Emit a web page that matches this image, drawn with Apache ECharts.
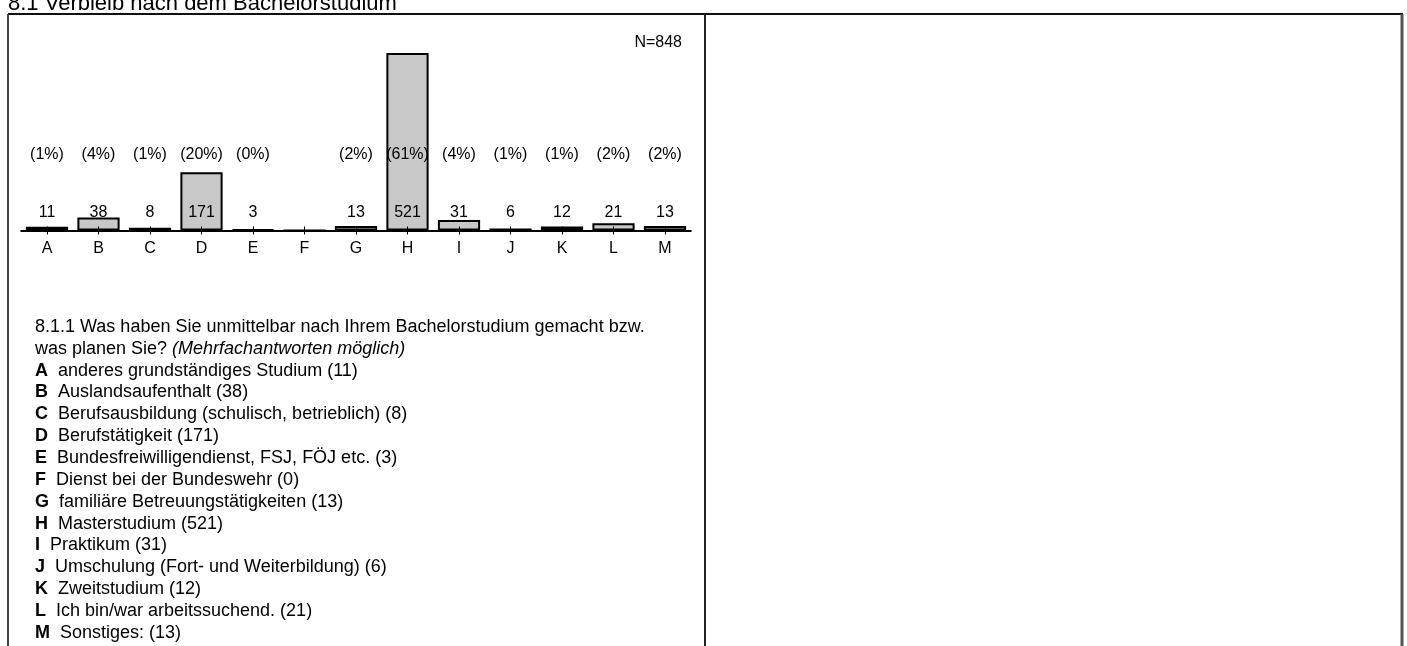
<!DOCTYPE html>
<html>
<head>
<meta charset="utf-8">
<script src="https://cdn.jsdelivr.net/npm/echarts@6/dist/echarts.min.js"></script>
<style>
html,body{margin:0;padding:0;background:#ffffff;}
#chart{width:1407px;height:646px;}
</style>
</head>
<body>
<div id="chart"></div>
<script>
// ---- data ----
const chartTitle = '8.1 Verbleib nach dem Bachelorstudium';
const totalN = 848;
const categories = ['A','B','C','D','E','F','G','H','I','J','K','L','M'];
const counts = [11, 38, 8, 171, 3, 0, 13, 521, 31, 6, 12, 21, 13];
const percentLabels = ['(1%)','(4%)','(1%)','(20%)','(0%)','','(2%)','(61%)','(4%)','(1%)','(1%)','(2%)','(2%)'];
const answerTexts = [
  'anderes grundständiges Studium',
  'Auslandsaufenthalt',
  'Berufsausbildung (schulisch, betrieblich)',
  'Berufstätigkeit',
  'Bundesfreiwilligendienst, FSJ, FÖJ etc.',
  'Dienst bei der Bundeswehr',
  'familiäre Betreuungstätigkeiten',
  'Masterstudium',
  'Praktikum',
  'Umschulung (Fort- und Weiterbildung)',
  'Zweitstudium',
  'Ich bin/war arbeitssuchend.',
  'Sonstiges:'
];
const questionLine1 = '8.1.1 Was haben Sie unmittelbar nach Ihrem Bachelorstudium gemacht bzw.';
const questionLine2 = 'was planen Sie? ';
const questionHint = '(Mehrfachantworten möglich)';

// ---- build ----
const FONT = "'Liberation Sans', Arial, sans-serif";
const listLines = [questionLine1, questionLine2 + '{i|' + questionHint + '}'];
categories.forEach((c, i) => {
  listLines.push('{b|' + c + '}  ' + answerTexts[i] + ' (' + counts[i] + ')');
});

const baseAxis = {
  type: 'category',
  data: categories,
  position: 'bottom',
  gridIndex: 0,
  axisLine: { show: false },
  axisTick: { show: false },
  splitLine: { show: false }
};

const LH = 21.86;
const chart = echarts.init(document.getElementById('chart'), null, { renderer: 'canvas' });
chart.setOption({
  animation: false,
  backgroundColor: '#ffffff',
  textStyle: { fontFamily: FONT },
  title: [{
    text: listLines.join('\n'),
    left: 35,
    top: 316,
    padding: 0,
    textStyle: {
      fontFamily: FONT, fontSize: 18, fontWeight: 'normal', color: '#000', lineHeight: LH,
      rich: {
        b: { fontFamily: FONT, fontSize: 18, fontWeight: 'bold', color: '#000', lineHeight: LH },
        i: { fontFamily: FONT, fontSize: 18, fontStyle: 'italic', color: '#000', lineHeight: LH }
      }
    }
  }],
  graphic: [
    { type: 'text', x: 8, y: 4, style: { text: chartTitle, font: "22px 'Liberation Sans', Arial, sans-serif", fill: '#000', verticalAlign: 'middle', align: 'left' } },
    { type: 'text', x: 682, y: 43, style: { text: 'N=' + totalN, font: "16px 'Liberation Sans', Arial, sans-serif", fill: '#000', verticalAlign: 'middle', align: 'right' } },
    { type: 'line', shape: { x1: 8, y1: 14, x2: 1403, y2: 14 }, style: { stroke: '#111', lineWidth: 2 } },
    { type: 'line', shape: { x1: 8, y1: 14, x2: 8, y2: 646 }, style: { stroke: '#444', lineWidth: 2 } },
    { type: 'line', shape: { x1: 705, y1: 14, x2: 705, y2: 646 }, style: { stroke: '#222', lineWidth: 2 } },
    { type: 'line', shape: { x1: 1402, y1: 14, x2: 1402, y2: 646 }, style: { stroke: '#555', lineWidth: 3 } }
  ],
  grid: { left: 21.25, top: 53, width: 669.5, height: 177.5, containLabel: false },
  xAxis: [
    {
      type: 'category', data: categories, position: 'bottom', gridIndex: 0, z: 3,
      axisLine: { show: true, lineStyle: { color: '#000', width: 2 } },
      axisTick: { show: true, alignWithLabel: true, length: 4, lineStyle: { color: '#000', width: 1 } },
      axisLabel: { show: true, interval: 0, margin: 10, fontSize: 16, color: '#000', fontFamily: FONT },
      splitLine: { show: false }
    },
    Object.assign({}, baseAxis, {
      z: 4,
      axisTick: { show: true, inside: true, alignWithLabel: true, length: 4, lineStyle: { color: '#000', width: 1 } },
      axisLabel: { show: false }
    }),
    Object.assign({}, baseAxis, {
      offset: -33.5, z: 5,
      axisLabel: { show: true, interval: 0, margin: 8, fontSize: 16, color: '#000', fontFamily: FONT,
        formatter: (v, i) => counts[i] > 0 ? String(counts[i]) : '' }
    }),
    Object.assign({}, baseAxis, {
      offset: -92, z: 5,
      axisLabel: { show: true, interval: 0, margin: 8, fontSize: 16, color: '#000', fontFamily: FONT,
        formatter: (v, i) => percentLabels[i] }
    })
  ],
  yAxis: {
    type: 'value', min: 0, max: 521, show: false,
    splitLine: { show: false }, axisLine: { show: false }, axisTick: { show: false }, axisLabel: { show: false }
  },
  series: [{
    type: 'bar',
    xAxisIndex: 0,
    data: counts,
    barCategoryGap: '18%',
    itemStyle: { color: '#c8c8c8', borderColor: '#000', borderWidth: 2 },
    label: { show: false },
    z: 2
  }]
});
</script>
</body>
</html>
